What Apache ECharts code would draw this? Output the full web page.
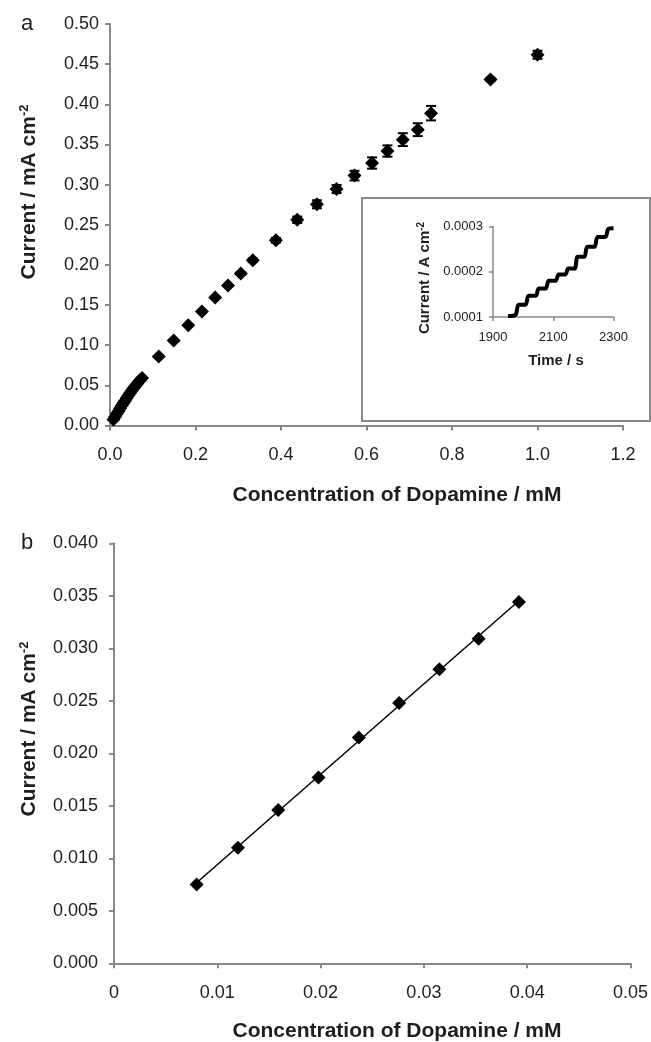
<!DOCTYPE html>
<html>
<head>
<meta charset="utf-8">
<script src="https://cdn.jsdelivr.net/npm/echarts@6/dist/echarts.min.js"></script>
<style>
  html, body { margin: 0; padding: 0; background: #fff; }
  #chart { width: 651px; height: 1042px; }
</style>
</head>
<body>
<div id="chart"></div>
<script>
// panel a: current vs dopamine concentration (mean +/- error)
const concA = [0.0080, 0.0120, 0.0159, 0.0198, 0.0237, 0.0276, 0.0315, 0.0353, 0.0392, 0.043, 0.047, 0.051, 0.055, 0.059, 0.063, 0.067, 0.071, 0.075,
  0.114, 0.149, 0.183, 0.215, 0.246, 0.276, 0.306, 0.334, 0.388, 0.438, 0.484, 0.530, 0.572, 0.613, 0.649, 0.685, 0.720, 0.751, 0.890, 1.000]
const currA = [0.0075, 0.0110, 0.0146, 0.0177, 0.0215, 0.0248, 0.0280, 0.0309, 0.0344, 0.0375, 0.0405, 0.0435, 0.0463, 0.0492, 0.0518, 0.0545, 0.0568, 0.0590,
  0.0858, 0.1059, 0.1250, 0.1420, 0.1595, 0.1744, 0.1893, 0.2059, 0.2307, 0.2562, 0.2755, 0.2945, 0.3112, 0.3269, 0.3418, 0.3560, 0.3684, 0.3890, 0.4310, 0.4617]
const errA = [0.0005, 0.0005, 0.0005, 0.0005, 0.0005, 0.0005, 0.0005, 0.0005, 0.0005, 0.0005, 0.0005, 0.0005, 0.0005, 0.0005, 0.0005, 0.0005, 0.0005, 0.0005,
  0.001, 0.001, 0.001, 0.001, 0.001, 0.0015, 0.0015, 0.002, 0.003, 0.004, 0.005, 0.005, 0.006, 0.007, 0.007, 0.008, 0.008, 0.009, 0.002, 0.005]

// inset: amperometric staircase
const insetTime = [1950, 1975, 1985, 2008, 2018, 2042, 2052, 2075, 2085, 2108, 2118, 2140, 2150, 2171, 2181, 2203, 2213, 2237, 2247, 2273, 2283, 2300]
const insetCurrent = [0.000102, 0.000105, 0.000127, 0.000127, 0.000147, 0.000147, 0.000163, 0.000163, 0.000180, 0.000180, 0.000194, 0.000194,
  0.000207, 0.000207, 0.000233, 0.000233, 0.000255, 0.000255, 0.000277, 0.000277, 0.000295, 0.000296]

// panel b: low concentration range
const concB = [0.0080, 0.0120, 0.0159, 0.0198, 0.0237, 0.0276, 0.0315, 0.0353, 0.0392]
const currB = [0.0075, 0.0110, 0.0146, 0.0177, 0.0215, 0.0248, 0.0280, 0.0309, 0.0344]

const axisColor = '#898989'
const textColor = '#1e1e1e'
const font = 'Liberation Sans, Arial, sans-serif'

// least squares line for panel b
const n = concB.length
const mx = concB.reduce((a, b) => a + b, 0) / n
const my = currB.reduce((a, b) => a + b, 0) / n
let sxy = 0, sxx = 0
concB.forEach((x, i) => { sxy += (x - mx) * (currB[i] - my); sxx += (x - mx) * (x - mx) })
const slope = sxy / sxx
const icpt = my - slope * mx
const fitB = [concB[0], concB[n - 1]].map(x => [x, icpt + slope * x])

const valueAxis = (opt) => ({
  type: 'value',
  axisLine: { show: true, lineStyle: { color: axisColor, width: 2 } },
  axisTick: { show: true, length: 5, lineStyle: { color: axisColor, width: 2 } },
  splitLine: { show: false },
  ...opt
})

const titleText = (x, y, main, size, supSize) => ({
  type: 'text',
  x, y,
  rotation: Math.PI / 2,
  style: {
    text: `{m|${main}}{s|-2}`,
    align: 'center',
    verticalAlign: 'middle',
    fill: textColor,
    rich: {
      m: { fontSize: size, fontWeight: 'bold', fontFamily: font, fill: textColor, lineHeight: size + 2 },
      s: { fontSize: supSize, fontWeight: 'bold', fontFamily: font, fill: textColor, verticalAlign: 'top', lineHeight: supSize, padding: [0, 0, 6, 0] }
    }
  }
})

const chart = echarts.init(document.getElementById('chart'))

const option = {
  animation: false,
  backgroundColor: '#fff',
  textStyle: { fontFamily: font },
  grid: [
    { left: 110, top: 24, width: 513, height: 401.5 },
    { left: 493, top: 226.5, width: 120.5, height: 90.5 },
    { left: 114, top: 543.3, width: 517.5, height: 420 }
  ],
  xAxis: [
    valueAxis({
      gridIndex: 0, min: 0, max: 1.2, interval: 0.2,
      axisLabel: { fontSize: 18, color: textColor, margin: 21, formatter: v => v.toFixed(1) }
    }),
    valueAxis({
      gridIndex: 1, min: 1900, max: 2300, interval: 200,
      axisTick: { show: true, length: 4, lineStyle: { color: axisColor, width: 1.5 } },
      axisLine: { show: true, lineStyle: { color: axisColor, width: 1.5 } },
      axisLabel: { fontSize: 13, color: textColor, margin: 14, formatter: v => String(v) }
    }),
    valueAxis({
      gridIndex: 2, min: 0, max: 0.05, interval: 0.01,
      axisLabel: { fontSize: 18, color: textColor, margin: 21, formatter: v => (v === 0 ? '0' : v.toFixed(2)) }
    })
  ],
  yAxis: [
    valueAxis({
      gridIndex: 0, min: 0, max: 0.5, interval: 0.05,
      axisLabel: { fontSize: 18, color: textColor, margin: 11, formatter: v => v.toFixed(2) }
    }),
    valueAxis({
      gridIndex: 1, min: 0.0001, max: 0.0003, interval: 0.0001,
      axisTick: { show: true, length: 4, lineStyle: { color: axisColor, width: 1.5 } },
      axisLine: { show: true, lineStyle: { color: axisColor, width: 1.5 } },
      axisLabel: { fontSize: 13, color: textColor, margin: 10, formatter: v => v.toFixed(4) }
    }),
    valueAxis({
      gridIndex: 2, min: 0, max: 0.04, interval: 0.005,
      axisLabel: { fontSize: 18, color: textColor, margin: 16, formatter: v => v.toFixed(3) }
    })
  ],
  graphic: [
    { type: 'text', x: 27, y: 24, style: { text: 'a', fontSize: 22, fontFamily: font, fill: textColor, align: 'center', verticalAlign: 'middle' } },
    { type: 'text', x: 27, y: 543, style: { text: 'b', fontSize: 22, fontFamily: font, fill: textColor, align: 'center', verticalAlign: 'middle' } },
    { type: 'rect', shape: { x: 362, y: 198, width: 288, height: 223 }, style: { fill: null, stroke: axisColor, lineWidth: 2 } },
    titleText(29, 192, 'Current / mA cm', 21, 13),
    titleText(29, 729, 'Current / mA cm', 21, 13),
    titleText(425, 278, 'Current / A cm', 15, 10),
    { type: 'text', x: 397, y: 495, style: { text: 'Concentration of Dopamine / mM', fontSize: 21, fontWeight: 'bold', fontFamily: font, fill: textColor, align: 'center', verticalAlign: 'middle' } },
    { type: 'text', x: 397, y: 1031, style: { text: 'Concentration of Dopamine / mM', fontSize: 21, fontWeight: 'bold', fontFamily: font, fill: textColor, align: 'center', verticalAlign: 'middle' } },
    { type: 'text', x: 556, y: 361, style: { text: 'Time / s', fontSize: 15, fontWeight: 'bold', fontFamily: font, fill: textColor, align: 'center', verticalAlign: 'middle' } }
  ],
  series: [
    {
      type: 'custom',
      xAxisIndex: 0,
      yAxisIndex: 0,
      data: concA.map((x, i) => [x, currA[i] - errA[i], currA[i] + errA[i]]),
      renderItem: (params, api) => {
        const lo = api.coord([api.value(0), api.value(1)])
        const hi = api.coord([api.value(0), api.value(2)])
        const hw = 5
        const style = { stroke: '#000', lineWidth: 2 }
        return {
          type: 'group',
          children: [
            { type: 'line', shape: { x1: lo[0], y1: lo[1], x2: hi[0], y2: hi[1] }, style },
            { type: 'line', shape: { x1: lo[0] - hw, y1: lo[1], x2: lo[0] + hw, y2: lo[1] }, style },
            { type: 'line', shape: { x1: hi[0] - hw, y1: hi[1], x2: hi[0] + hw, y2: hi[1] }, style }
          ]
        }
      },
      z: 3
    },
    {
      type: 'scatter',
      xAxisIndex: 0,
      yAxisIndex: 0,
      symbol: 'diamond',
      symbolSize: 14,
      itemStyle: { color: '#000', opacity: 1 },
      data: concA.map((x, i) => [x, currA[i]]),
      z: 4
    },
    {
      type: 'line',
      xAxisIndex: 1,
      yAxisIndex: 1,
      showSymbol: false,
      smooth: 0.3,
      lineStyle: { color: '#000', width: 4 },
      data: insetTime.map((t, i) => [t, insetCurrent[i]])
    },
    {
      type: 'line',
      xAxisIndex: 2,
      yAxisIndex: 2,
      showSymbol: false,
      lineStyle: { color: '#000', width: 1.5 },
      data: fitB
    },
    {
      type: 'scatter',
      xAxisIndex: 2,
      yAxisIndex: 2,
      symbol: 'diamond',
      symbolSize: 14,
      itemStyle: { color: '#000', opacity: 1 },
      data: concB.map((x, i) => [x, currB[i]]),
      z: 4
    }
  ]
}

chart.setOption(option)
</script>
</body>
</html>
